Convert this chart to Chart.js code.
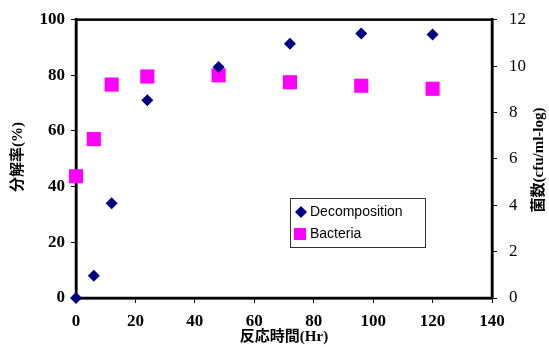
<!DOCTYPE html>
<html>
<head>
<meta charset="utf-8">
<script src="https://cdn.jsdelivr.net/npm/chart.js@4"></script>
<style>
  html, body { margin: 0; padding: 0; background: #fff; }
  #wrap { width: 549px; height: 347px; }
</style>
</head>
<body>
<div id="wrap"><canvas id="chart1" width="549" height="347"></canvas></div>
<script>
var hours = [0, 6, 12, 24, 48, 72, 96, 120]
var decomposition = [0, 8, 34, 71, 83, 91.3, 95, 94.7]
var bacteria = [5.25, 6.85, 9.2, 9.55, 9.6, 9.3, 9.15, 9.02]

var serif = '"Liberation Serif", "Noto Sans CJK JP", serif'

function pts(ys) {
  return ys.map(function (y, i) { return { x: hours[i], y: y } })
}

// frame, rotated axis titles and the boxed legend
var extras = {
  id: 'extras',
  beforeDatasetsDraw: function (chart) {
    var c = chart.ctx
    var a = chart.chartArea
    c.save()
    c.strokeStyle = '#000'
    c.lineWidth = 2.5
    c.strokeRect(a.left, a.top, a.right - a.left, a.bottom - a.top)
    c.restore()
  },
  afterDraw: function (chart) {
    var c = chart.ctx
    c.save()
    c.fillStyle = '#000'
    c.font = 'bold 15px ' + serif
    c.textAlign = 'center'
    c.textBaseline = 'middle'
    c.fillText('反応時間(Hr)', 284, 337)

    c.save()
    c.translate(18, 157)
    c.rotate(-Math.PI / 2)
    c.fillText('分解率(%)', 0, 0)
    c.restore()

    c.save()
    c.translate(539, 160)
    c.rotate(-Math.PI / 2)
    c.fillText('菌数(cfu/ml-log)', 0, 0)
    c.restore()

    // legend
    c.lineWidth = 1
    c.strokeStyle = '#333'
    c.strokeRect(290.5, 198.5, 135, 49)
    c.fillStyle = '#000080'
    c.beginPath()
    c.moveTo(301, 206); c.lineTo(307, 212); c.lineTo(301, 218); c.lineTo(295, 212)
    c.closePath(); c.fill()
    c.fillStyle = '#ff00ff'
    c.fillRect(294, 228, 12, 12)
    c.fillStyle = '#000'
    c.textAlign = 'left'
    c.font = '14px "Liberation Sans", sans-serif'
    c.fillText('Decomposition', 310, 212)
    c.fillText('Bacteria', 310, 234)
    c.restore()
  }
}

var ctx1 = document.getElementById('chart1').getContext('2d')
var myChart1 = new Chart(ctx1, {
  type: 'scatter',
  data: {
    datasets: [
      {
        label: 'Decomposition',
        data: pts(decomposition),
        yAxisID: 'y',
        clip: false,
        pointStyle: 'rectRot',
        pointRadius: 6,
        pointHoverRadius: 6,
        backgroundColor: '#000080',
        borderColor: '#000080',
        borderWidth: 0
      },
      {
        label: 'Bacteria',
        data: pts(bacteria),
        yAxisID: 'y2',
        clip: false,
        pointStyle: 'rect',
        pointRadius: 10,
        pointHoverRadius: 10,
        backgroundColor: '#ff00ff',
        borderColor: '#ff00ff',
        borderWidth: 0
      }
    ]
  },
  options: {
    responsive: false,
    animation: false,
    layout: { padding: { top: 19, left: 0, right: 0, bottom: 0 } },
    plugins: { legend: { display: false }, tooltip: { enabled: false } },
    scales: {
      x: {
        type: 'linear',
        min: 0,
        max: 140,
        afterFit: function (s) { s.height = 49 },
        border: { display: true, color: '#000', width: 2.5 },
        grid: { display: true, drawOnChartArea: false, drawTicks: true, tickLength: 5, color: '#000' },
        ticks: { stepSize: 20, color: '#000', padding: 8, font: { family: serif, size: 17, weight: 'bold' } }
      },
      y: {
        position: 'left',
        min: 0,
        max: 100,
        afterFit: function (s) { s.width = 76 },
        border: { display: true, color: '#000', width: 2.5 },
        grid: { display: true, drawOnChartArea: false, drawTicks: true, tickLength: 5, color: '#000' },
        ticks: { stepSize: 20, color: '#000', padding: 6, font: { family: serif, size: 17, weight: 'bold', lineHeight: 0.9 } }
      },
      y2: {
        position: 'right',
        min: 0,
        max: 12,
        afterFit: function (s) { s.width = 57 },
        border: { display: true, color: '#000', width: 2.5 },
        grid: { display: true, drawOnChartArea: false, drawTicks: true, tickLength: 5, color: '#000' },
        ticks: { stepSize: 2, color: '#000', padding: 12, font: { family: serif, size: 17, lineHeight: 0.9 } }
      }
    }
  },
  plugins: [extras]
})
</script>
</body>
</html>
